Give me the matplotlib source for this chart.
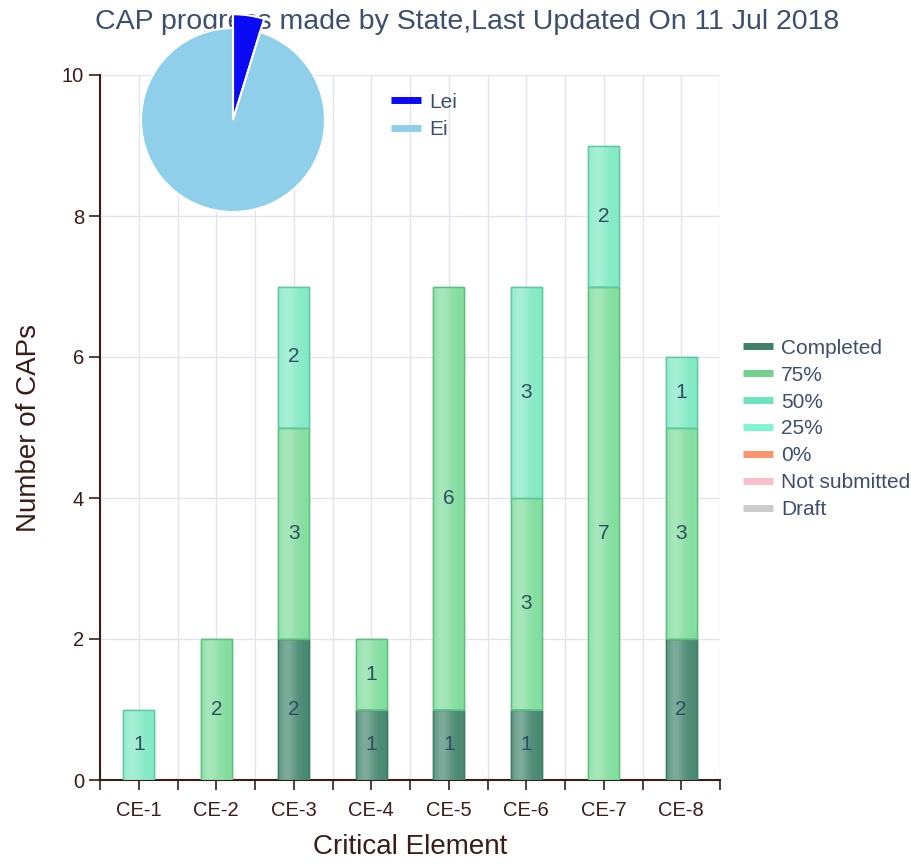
import matplotlib
matplotlib.use('Agg')
import matplotlib.pyplot as plt
from matplotlib.lines import Line2D
from matplotlib.colors import to_rgb
import numpy as np

plt.rcParams['font.family'] = ['Liberation Sans', 'DejaVu Sans']

# data
categories = ['CE-1', 'CE-2', 'CE-3', 'CE-4', 'CE-5', 'CE-6', 'CE-7', 'CE-8']
completed = [0, 0, 2, 1, 1, 1, 0, 2]
p75 = [0, 2, 3, 1, 6, 3, 7, 3]
p50 = [1, 0, 2, 0, 0, 3, 2, 1]
p25 = [0, 0, 0, 0, 0, 0, 0, 0]
p0 = [0, 0, 0, 0, 0, 0, 0, 0]
not_submitted = [0, 0, 0, 0, 0, 0, 0, 0]
draft = [0, 0, 0, 0, 0, 0, 0, 0]

series_names = ['Completed', '75%', '50%', '25%', '0%', 'Not submitted', 'Draft']
series_values = [completed, p75, p50, p25, p0, not_submitted, draft]
bar_colors = ['#4a8a73', '#84dea0', '#84eac6', '#7fffd4', '#f8956a', '#ffc0cb', '#cccccc']
legend_colors = ['#3f7f6a', '#72d18c', '#6fe3bd', '#7ff5d2', '#f8956a', '#f9bfca', '#cccccc']
edge_colors = ['#3c7a64', '#5cbf7f', '#5cc9a0', '#5cc9a0', '#d07040', '#d09aa0', '#aaaaaa']

pie_labels = ['Lei', 'Ei']
pie_values = [1, 20]
pie_colors = ['#0a0af5', '#8fcfe9']

brown = '#3b1c16'
slate = '#3d4f6f'


def gradient_img(color):
    # light band left of centre, base colour at the edges
    base = np.array(to_rgb(color))
    t = np.linspace(0, 1, 64)
    w = 0.28 * np.exp(-((t - 0.3) / 0.3) ** 2)
    row = base[None, :] * (1 - w[:, None]) + w[:, None]
    return row[None, :, :]


fig = plt.figure(figsize=(9.11, 8.64), dpi=100)
ax = fig.add_axes([100 / 911, 1 - 780 / 864, 620 / 911, 705 / 864])

x = np.arange(len(categories))
bottom = np.zeros(len(categories))
width = 0.4
for name, vals, c, ec in zip(series_names, series_values, bar_colors, edge_colors):
    vals = np.array(vals, dtype=float)
    for xi, v, b in zip(x, vals, bottom):
        if v <= 0:
            continue
        bar = ax.bar(xi, v, width, bottom=b, color=c, edgecolor=ec, linewidth=1, zorder=3)[0]
        img = ax.imshow(gradient_img(c), extent=(xi - width / 2, xi + width / 2, b, b + v),
                        aspect='auto', zorder=3.1, interpolation='bilinear')
        img.set_clip_path(bar)
        ax.bar(xi, v, width, bottom=b, color='none', edgecolor=ec, linewidth=1, zorder=3.2)
        ax.text(xi, b + v / 2, str(int(v)), ha='center', va='center',
                fontsize=15, color='#2f4f60', zorder=4)
    bottom += vals

ax.set_xlim(-0.5, 7.5)
ax.set_ylim(0, 10)
ax.set_xticks(x)
ax.set_xticklabels(categories, fontsize=14.5, color=brown)
ax.set_xticks(np.arange(-0.5, 8, 1), minor=True)
ax.set_yticks([0, 2, 4, 6, 8, 10])
ax.tick_params(axis='y', labelsize=14.5, labelcolor=brown, color=brown, length=8, width=1.2)
ax.tick_params(axis='x', which='both', color=brown, length=7, width=1.2, pad=8)
ax.grid(True, which='both', color='#e4e4f0', linewidth=1, zorder=0)
for s in ['top', 'right']:
    ax.spines[s].set_visible(False)
for s in ['left', 'bottom']:
    ax.spines[s].set_color(brown)
    ax.spines[s].set_linewidth(1.5)
ax.set_xlabel('Critical Element', fontsize=20, color=brown, labelpad=10)
ax.set_ylabel('Number of CAPs', fontsize=20, color=brown, labelpad=14)

handles = [Line2D([], [], color=c, lw=5, solid_capstyle='butt') for c in legend_colors]
fig.legend(handles, series_names, loc='upper left', bbox_to_anchor=(724 / 911, 1 - 320 / 864),
           frameon=False, fontsize=15, labelcolor=slate, handlelength=1.45,
           handletextpad=0.4, labelspacing=0.38)

fig.text(467 / 911, 1 - 22 / 864, 'CAP progress made by State,Last Updated On 11 Jul 2018',
         ha='center', va='center', fontsize=20.5, color=slate, zorder=1)

# inset pie
r_px = 92
half = r_px * 1.3
pax = fig.add_axes([(233 - half) / 911, 1 - (120 + half) / 864, 2 * half / 911, 2 * half / 864])
pax.set_zorder(5)
wedges, _ = pax.pie(pie_values, colors=pie_colors, startangle=90, counterclock=False,
                    wedgeprops=dict(edgecolor='white', linewidth=1.5))
wedges[0].set_radius(1.15)
pax.set_xlim(-1.3, 1.3)
pax.set_ylim(-1.3, 1.3)
pax.set_aspect('equal')
pax.axis('off')

pie_handles = [Line2D([], [], color=c, lw=5, solid_capstyle='butt') for c in pie_colors]
fig.legend(pie_handles, pie_labels, loc='upper left', bbox_to_anchor=(372 / 911, 1 - 74 / 864),
           frameon=False, fontsize=15, labelcolor=slate, handlelength=1.45,
           handletextpad=0.4, labelspacing=0.42)

fig.savefig('out.png', dpi=100)
